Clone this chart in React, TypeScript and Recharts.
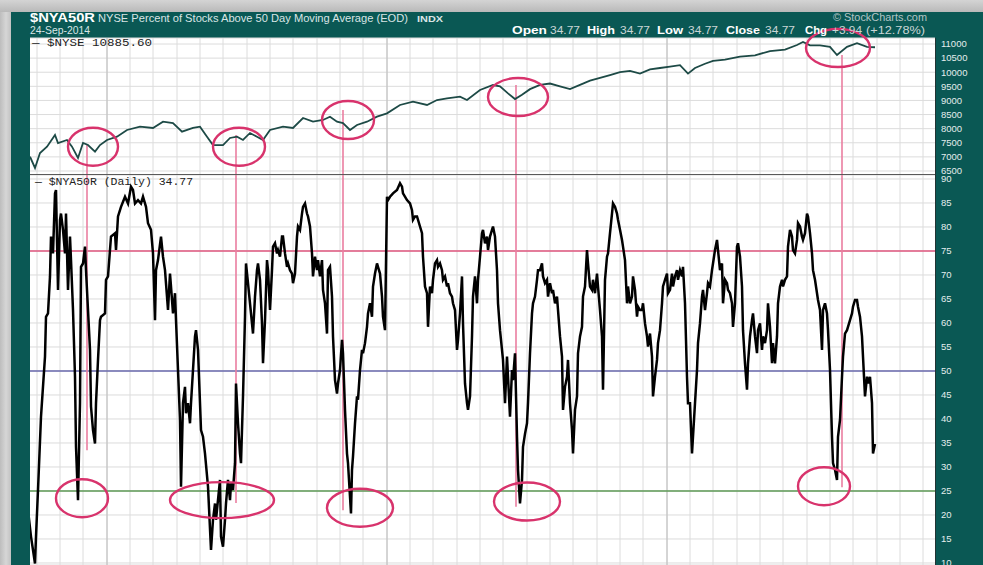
import React from "react";
import {
  LineChart,
  Line,
  XAxis,
  YAxis,
  CartesianGrid,
  ReferenceLine,
  ReferenceDot,
} from "recharts";

const TEAL = "#0a5854";
const RING = "#d8336c";
const PIN = "#ea7ea0";
const GRID = "#dcdcdc";

// sessions since the start of the window, one grid line per month
const monthTicks = [
  9, 32, 55, 79, 102, 125, 149, 172, 195, 219, 242, 265, 289, 312, 335, 359,
  382, 405, 429, 452, 475, 499, 522, 545, 569, 592, 615, 639, 662, 685, 709,
  732, 755, 779, 802, 825, 849, 872, 895,
];
const yearTicks = [79, 359, 639];
const priceTicks = [
  6500, 7000, 7500, 8000, 8500, 9000, 9500, 10000, 10500, 11000,
];
const pctTicks = [
  10, 15, 20, 25, 30, 35, 40, 45, 50, 55, 60, 65, 70, 75, 80, 85, 90,
];

const lastNyse = "10885.60";
const lastPct = "34.77";
const change = "+3.94";
const changePct = "(+12.78%)";

// $NYSE close: [session, value]
const nyse: [number, number][] = [
  [2, 7007], [7, 6607], [12, 7138], [19, 7362], [27, 7776], [30, 7492],
  [39, 7600], [44, 7362], [50, 6960], [55, 7492], [60, 7420], [67, 7185],
  [72, 7420], [79, 7600], [89, 7715], [99, 7953], [112, 8070], [125, 8024],
  [135, 8247], [145, 8200], [154, 7893], [165, 8024], [172, 8070], [179, 7715],
  [185, 7420], [195, 7420], [202, 7670], [209, 7715], [215, 7600], [222, 7847],
  [229, 7715], [235, 7600], [242, 7953], [255, 8070], [265, 8024], [275, 8378],
  [285, 8247], [295, 8307], [302, 8424], [309, 8247], [315, 8200], [322, 7953],
  [329, 8130], [339, 8247], [349, 8424], [359, 8544], [372, 8839], [385, 8955],
  [399, 8839], [409, 9016], [419, 9076], [432, 9133], [439, 9016], [452, 9370],
  [465, 9547], [472, 9500], [480, 9250], [487, 9050], [494, 9200], [502, 9400],
  [512, 9550], [522, 9600], [532, 9500], [542, 9400], [552, 9550], [562, 9700],
  [572, 9800], [582, 9900], [592, 10000], [602, 10050], [612, 9950],
  [622, 10100], [632, 10150], [642, 10200], [652, 10250], [660, 9950],
  [667, 10150], [677, 10300], [685, 10400], [697, 10450], [712, 10550],
  [727, 10600], [742, 10750], [757, 10800], [769, 10964], [775, 11070],
  [782, 10950], [792, 10950], [802, 10900], [809, 10610], [819, 10900],
  [829, 11030], [839, 10900], [847, 10886],
];

// $NYA50R daily: [session, percent]
const nya50r: [number, number][] = [
  [0, 21.0], [3, 15.5], [7, 9.9], [8, 15.5], [10, 25.2], [13, 40.5], [17, 53.0],
  [18, 61.3], [20, 62.0], [22, 69.7], [23, 78.0], [25, 74.5], [27, 87.0],
  [28, 87.7], [30, 66.9], [32, 81.5], [33, 82.8], [35, 79.4], [37, 74.5],
  [38, 82.8], [40, 66.9], [42, 78.0], [43, 73.1], [45, 62.7], [47, 48.8],
  [48, 34.2], [50, 23.1], [52, 43.3], [53, 71.7], [55, 72.4], [57, 75.9],
  [58, 71.0], [60, 62.7], [62, 54.4], [63, 42.6], [65, 37.7], [67, 34.9],
  [68, 43.3], [70, 52.3], [72, 60.6], [73, 61.3], [77, 62.0], [78, 69.0],
  [80, 69.7], [83, 78.0], [87, 78.7], [88, 75.2], [90, 82.2], [93, 84.2],
  [97, 86.3], [100, 84.9], [103, 88.4], [105, 87.7], [107, 84.9], [110, 85.6],
  [113, 84.9], [115, 86.3], [118, 84.2], [120, 80.8], [123, 79.4], [125, 74.5],
  [127, 60.6], [128, 71.0], [130, 73.1], [133, 78.0], [135, 73.8], [137, 71.0],
  [140, 62.7], [142, 70.3], [143, 67.6], [145, 62.0], [147, 66.2], [148, 60.6],
  [150, 50.2], [152, 39.8], [153, 25.9], [155, 43.3], [157, 46.7], [158, 41.2],
  [160, 43.3], [162, 39.1], [163, 43.3], [165, 50.2], [167, 57.2], [168, 58.5],
  [170, 54.4], [172, 43.3], [173, 37.7], [175, 36.3], [177, 32.8], [180, 25.9],
  [183, 12.7], [185, 19.0], [187, 22.4], [188, 19.0], [192, 27.3], [193, 15.5],
  [195, 13.4], [197, 19.0], [198, 22.4], [200, 27.3], [202, 23.1], [203, 26.6],
  [205, 25.2], [207, 30.8], [208, 47.4], [210, 39.1], [212, 32.8], [213, 30.8],
  [215, 44.7], [217, 61.3], [218, 72.4], [220, 68.3],
  [222, 64.1], [225, 57.8], [227, 65.5], [229, 71.0], [230, 72.4], [232, 69.0],
  [234, 59.9], [235, 51.6], [237, 60.6], [239, 73.1], [240, 71.0], [242, 62.7],
  [244, 71.0], [245, 75.9], [247, 76.6], [249, 74.5], [250, 75.2], [252, 73.8],
  [254, 78.0], [255, 78.0], [257, 74.5], [259, 71.7], [260, 72.4], [262, 71.0],
  [264, 70.3], [265, 68.3], [267, 70.3], [269, 78.0], [270, 80.1], [272, 79.4],
  [274, 82.8], [275, 84.2], [277, 84.9], [279, 82.8], [280, 82.2], [282, 80.1],
  [284, 74.5], [285, 69.7], [287, 73.8], [289, 71.0], [290, 73.1], [292, 69.7],
  [294, 73.1], [295, 66.9], [297, 64.1], [299, 57.8], [300, 71.0], [302, 71.7],
  [304, 65.5], [305, 57.2], [307, 48.1], [309, 45.3], [310, 47.4], [312, 50.2],
  [314, 56.5], [315, 53.7], [317, 41.9], [319, 32.8], [320, 30.8], [322, 23.8],
  [323, 20.3], [324, 29.4], [325, 32.2], [327, 39.1], [329, 44.7], [330, 44.0],
  [332, 50.2], [334, 54.4], [335, 53.7], [337, 55.8], [339, 59.2], [340, 62.0],
  [342, 64.1], [344, 61.3], [345, 67.6], [347, 70.3], [349, 72.4], [350, 71.7],
  [352, 70.3], [354, 65.5], [355, 61.3], [357, 58.5], [359, 86.3], [360, 85.6],
  [362, 86.3], [365, 87.0], [369, 87.7], [372, 89.1], [374, 88.4], [375, 87.0],
  [379, 85.6], [382, 84.9], [384, 83.5], [385, 81.5], [387, 82.2], [389, 82.2],
  [392, 80.1], [394, 78.7], [395, 73.8], [397, 67.6], [399, 66.2], [400, 59.2],
  [402, 67.6], [404, 66.2], [405, 69.0], [407, 72.4], [409, 73.1], [410, 71.7],
  [412, 72.4], [414, 71.0], [415, 69.0], [417, 69.7], [419, 67.6], [420, 68.3],
  [422, 66.2], [424, 65.5], [425, 64.1], [427, 62.7], [429, 54.4], [430, 56.5],
  [432, 62.0], [434, 69.7], [435, 59.9], [437, 47.4], [439, 43.3], [440, 41.9],
  [442, 44.7], [444, 57.2], [445, 65.5], [447, 69.7], [449, 64.1], [450, 69.0],
  [452, 73.8], [454, 78.7], [455, 79.4], [457, 76.6], [459, 78.0], [460, 75.2],
  [462, 78.0], [464, 79.4], [465, 80.1], [467, 78.0], [469, 71.0], [470, 64.1],
  [472, 58.5], [474, 54.4], [475, 52.3], [477, 43.3], [479, 53.0], [480, 48.8],
  [482, 40.5], [484, 50.2], [485, 48.1], [487, 53.7], [489, 36.3], [490, 29.4],
  [492, 22.4], [494, 27.3], [495, 34.2], [497, 36.9], [499, 39.1], [500, 43.3],
  [502, 53.7], [504, 62.0], [505, 64.1], [507, 65.5], [509, 69.0], [510, 71.0],
  [512, 71.0], [514, 72.4], [515, 69.7], [517, 68.3], [519, 69.0], [520, 65.5],
  [522, 68.3], [524, 66.2], [525, 66.9], [527, 64.1], [529, 65.5], [530, 62.7],
  [532, 57.2], [534, 53.0], [535, 41.9], [537, 46.7], [539, 48.8], [540, 52.3],
  [542, 43.3], [544, 37.7], [545, 32.8], [547, 41.9], [549, 44.7], [550, 53.7],
  [552, 57.2], [554, 59.2], [555, 65.5], [557, 67.6], [559, 75.2], [560, 72.4],
  [562, 67.6], [564, 66.9], [565, 69.0], [567, 66.2], [569, 70.3], [570, 67.6],
  [572, 62.7], [574, 57.2], [575, 46.1], [577, 69.0], [579, 73.8], [580, 74.5],
  [582, 78.7], [584, 82.8], [585, 84.9], [587, 84.2], [589, 82.8], [590, 81.5],
  [592, 79.4], [594, 77.3], [595, 75.9], [597, 73.1], [599, 64.1], [600, 67.6],
  [602, 64.1], [604, 65.5], [605, 69.7], [607, 66.9], [609, 61.3], [610, 63.4],
  [612, 62.7], [614, 62.7], [615, 64.1], [617, 59.9], [619, 57.2], [620, 55.1],
  [622, 57.8], [624, 53.0], [625, 44.7], [627, 48.8], [629, 52.3], [630, 55.8],
  [632, 58.5], [634, 64.1], [635, 67.6], [637, 69.0], [639, 70.3], [640, 66.2],
  [642, 66.9], [644, 70.3], [645, 67.6], [647, 69.7], [649, 71.0], [650, 69.0],
  [652, 71.0], [654, 69.7], [655, 71.7], [657, 64.1], [659, 48.8], [660, 43.3],
  [662, 43.3], [664, 32.8], [665, 36.3], [667, 43.3], [669, 50.2], [670, 55.8],
  [672, 59.9], [674, 65.5], [675, 66.9], [677, 62.7], [679, 66.2], [680, 68.3],
  [682, 67.6], [684, 71.0], [685, 72.4], [687, 75.2], [689, 77.3], [690, 75.2],
  [692, 71.0], [694, 72.4], [695, 64.1], [697, 69.0], [699, 68.3], [700, 66.9],
  [702, 66.2], [704, 64.1], [705, 59.2], [707, 64.1], [709, 75.9], [710, 76.6],
  [712, 73.8], [714, 67.6], [715, 58.5], [717, 51.6], [719, 46.1], [720, 51.6],
  [722, 57.2], [724, 60.6], [725, 62.0], [727, 57.2], [729, 53.7], [730, 58.5],
  [732, 59.9], [734, 54.4], [735, 57.2], [737, 55.8], [739, 58.5], [740, 64.1],
  [742, 59.2], [744, 51.6], [745, 55.8], [747, 51.6], [749, 57.2], [750, 64.1],
  [752, 67.6], [754, 69.0], [755, 67.6], [757, 69.0], [759, 69.7], [760, 75.9],
  [762, 79.4], [764, 78.0], [765, 75.2], [767, 74.5], [769, 77.3], [770, 80.8],
  [772, 80.1], [774, 78.0], [775, 77.3], [777, 78.7], [779, 82.8], [780, 82.2],
  [782, 78.7], [784, 74.5], [785, 71.0], [787, 69.0], [789, 66.2], [790, 64.8],
  [792, 62.7], [794, 54.4], [795, 62.7], [797, 64.1], [799, 62.0], [800, 58.5],
  [802, 50.2], [804, 36.3], [805, 30.8], [807, 29.4], [809, 27.3], [810, 36.3],
  [812, 39.8], [814, 48.8], [815, 53.0], [817, 57.8], [819, 58.5], [820, 59.2],
  [822, 60.6], [824, 62.0], [825, 63.4], [827, 64.8], [829, 64.8], [830, 63.4],
  [832, 61.3], [834, 57.2], [835, 53.0], [837, 44.7], [839, 48.8], [840, 47.4],
  [842, 48.8], [844, 43.3], [845, 32.8], [847, 34.8],
];

// hand-drawn markers: session, price where the pin starts, percent where it ends
const pinDays = [59, 208, 315, 488, 814];
const pinPriceTop = [7421, 7776, 8661, 9547, 10610];
const pinPctBottom = [33.5, 22.5, 21.0, 21.7, 25.8];
const priceRings: [number, number][] = [
  [65, 7361], [211, 7361], [320, 8307], [490, 9122], [810, 10858],
];
const pctRings: [number, number][] = [
  [54, 23.5], [194, 23.1], [332, 21.5], [499, 22.8], [796, 26.0],
];
const priceRingSize = [[25, 19], [26, 19], [26, 19], [30, 19], [32, 19]];
const pctRingSize = [[26, 19], [52, 18], [33, 19], [33, 19], [26, 19]];

const priceData = nyse.map(([d, v]) => ({ d, v }));
const pctData = nya50r.map(([d, v]) => ({ d, v }));

const X_DOMAIN: [number, number] = [2, 907];
const PRICE_DOMAIN: [number, number] = [6358, 11213];
const PCT_DOMAIN: [number, number] = [9.58, 90.83];

const axisTick = {
  fill: "#e4eded",
  fontSize: 9.5,
  fontFamily: "Liberation Sans, Arial, sans-serif",
};

const ring = (rx: number, ry: number) => (p: any) =>
  (
    <ellipse
      cx={p.cx}
      cy={p.cy}
      rx={rx}
      ry={ry}
      fill="none"
      stroke={RING}
      strokeWidth={2.4}
    />
  );

const quoteBar = [
  { t: "Open", b: true, x: 512, w: 35 },
  { t: lastPct, b: false, x: 550, w: 30 },
  { t: "High", b: true, x: 587, w: 28 },
  { t: lastPct, b: false, x: 620, w: 30 },
  { t: "Low", b: true, x: 657, w: 26 },
  { t: lastPct, b: false, x: 688, w: 30 },
  { t: "Close", b: true, x: 726, w: 34 },
  { t: lastPct, b: false, x: 765, w: 30 },
  { t: "Chg", b: true, x: 805, w: 22 },
  { t: change, b: false, x: 832, w: 30 },
  { t: changePct, b: false, x: 866, w: 59 },
];

const SANS = "Liberation Sans, Arial, sans-serif";
const MONO = "Liberation Mono, DejaVu Sans Mono, monospace";

const monthLines = () => [
  ...monthTicks.map((d) => (
    <ReferenceLine key={`m${d}`} x={d} stroke={GRID} />
  )),
  ...yearTicks.map((d) => (
    <ReferenceLine key={`y${d}`} x={d} stroke="#bcbcbc" />
  )),
];

export default function App() {
  return (
    <div
      style={{
        position: "absolute",
        left: 0,
        top: 0,
        width: 983,
        height: 565,
        overflow: "hidden",
        background:
          "linear-gradient(90deg, #bdbdbd 0px, #d6d6d6 6px, #c2c2c2 11px)",
      }}
    >
      <div
        style={{
          position: "absolute",
          left: 0,
          top: 0,
          width: 983,
          height: 12,
          background: "linear-gradient(180deg, #d4d4d4 0px, #b9b9b9 12px)",
        }}
      />
      <div
        style={{
          position: "absolute",
          left: 11,
          top: 12,
          width: 972,
          height: 553,
          background: TEAL,
        }}
      />

      {/* price panel */}
      <div style={{ position: "absolute", left: 30, top: 12 }}>
        <LineChart
          width={953}
          height={163}
          data={priceData}
          margin={{ top: 26, right: 0, bottom: 0, left: 0 }}
        >
          <CartesianGrid stroke={GRID} fill="#ffffff" vertical={false} />
          <XAxis
            type="number"
            dataKey="d"
            domain={X_DOMAIN}
            ticks={monthTicks}
            allowDataOverflow
            hide
          />
          <YAxis
            orientation="right"
            type="number"
            domain={PRICE_DOMAIN}
            ticks={priceTicks}
            interval={0}
            allowDataOverflow
            width={48}
            axisLine={false}
            tickLine={false}
            tickMargin={0}
            tick={axisTick}
          />
          {monthLines()}
          {pinDays.map((d, i) => (
            <ReferenceLine
              key={`p${i}`}
              segment={[
                { x: d, y: pinPriceTop[i] },
                { x: d, y: PRICE_DOMAIN[0] },
              ]}
              stroke={PIN}
              strokeWidth={1.6}
              ifOverflow="visible"
            />
          ))}
          <Line
            type="linear"
            dataKey="v"
            stroke="#1d4a46"
            strokeWidth={1.8}
            dot={false}
            isAnimationActive={false}
          />
          {priceRings.map(([d, v], i) => (
            <ReferenceDot
              key={`r${i}`}
              x={d}
              y={v}
              r={1}
              ifOverflow="visible"
              shape={ring(priceRingSize[i][0], priceRingSize[i][1])}
            />
          ))}
        </LineChart>
      </div>

      {/* breadth panel (svg starts 10px higher so the top label is not cut) */}
      <div style={{ position: "absolute", left: 30, top: 165 }}>
        <LineChart
          width={953}
          height={400}
          data={pctData}
          margin={{ top: 10, right: 0, bottom: 0, left: 0 }}
        >
          <CartesianGrid stroke={GRID} fill="#ffffff" vertical={false} />
          <XAxis
            type="number"
            dataKey="d"
            domain={X_DOMAIN}
            ticks={monthTicks}
            allowDataOverflow
            hide
          />
          <YAxis
            orientation="right"
            type="number"
            domain={PCT_DOMAIN}
            ticks={pctTicks}
            interval={0}
            allowDataOverflow
            width={48}
            axisLine={false}
            tickLine={false}
            tickMargin={0}
            tick={axisTick}
          />
          {monthLines()}
          <ReferenceLine y={75} stroke="#e0577f" strokeWidth={1.3} />
          <ReferenceLine y={50} stroke="#6a6aae" strokeWidth={1.3} />
          <ReferenceLine y={25} stroke="#5e9a56" strokeWidth={1.3} />
          {pinDays.map((d, i) => (
            <ReferenceLine
              key={`p${i}`}
              segment={[
                { x: d, y: PCT_DOMAIN[1] },
                { x: d, y: pinPctBottom[i] },
              ]}
              stroke={PIN}
              strokeWidth={1.6}
              ifOverflow="visible"
            />
          ))}
          <Line
            type="linear"
            dataKey="v"
            stroke="#000000"
            strokeWidth={2.5}
            dot={false}
            isAnimationActive={false}
          />
          {pctRings.map(([d, v], i) => (
            <ReferenceDot
              key={`r${i}`}
              x={d}
              y={v}
              r={1}
              ifOverflow="visible"
              shape={ring(pctRingSize[i][0], pctRingSize[i][1])}
            />
          ))}
        </LineChart>
      </div>

      {/* panel borders */}
      <div
        style={{
          position: "absolute",
          left: 30,
          top: 174,
          width: 905,
          height: 1,
          background: "#5a5a5a",
        }}
      />
      <div
        style={{
          position: "absolute",
          left: 935,
          top: 38,
          width: 1,
          height: 527,
          background: "#233",
        }}
      />

      <svg
        width={983}
        height={565}
        style={{ position: "absolute", left: 0, top: 0, pointerEvents: "none" }}
      >
        <text
          x={30}
          y={22}
          fill="#ffffff"
          fontFamily={SANS}
          fontWeight="bold"
          fontSize={13}
          textLength={65}
          lengthAdjust="spacingAndGlyphs"
        >
          $NYA50R
        </text>
        <text
          x={98}
          y={22}
          fill="#d9e5e5"
          fontFamily={SANS}
          fontSize={11}
          textLength={310}
          lengthAdjust="spacingAndGlyphs"
        >
          NYSE Percent of Stocks Above 50 Day Moving Average (EOD)
        </text>
        <text
          x={417}
          y={22}
          fill="#d9e5e5"
          fontFamily={SANS}
          fontWeight="bold"
          fontSize={8.5}
          textLength={26}
          lengthAdjust="spacingAndGlyphs"
        >
          INDX
        </text>
        <text
          x={30}
          y={34}
          fill="#d9e5e5"
          fontFamily={SANS}
          fontSize={10}
          textLength={60}
          lengthAdjust="spacingAndGlyphs"
        >
          24-Sep-2014
        </text>
        <text
          x={833}
          y={21}
          fill="#b3c4c4"
          fontFamily={SANS}
          fontSize={10.5}
          textLength={94}
          lengthAdjust="spacingAndGlyphs"
        >
          © StockCharts.com
        </text>
        {quoteBar.map((s, i) => (
          <text
            key={i}
            x={s.x}
            y={33.5}
            fill={s.b ? "#ffffff" : "#c9d6d6"}
            fontFamily={SANS}
            fontWeight={s.b ? "bold" : "normal"}
            fontSize={11}
            textLength={s.w}
            lengthAdjust="spacingAndGlyphs"
          >
            {s.t}
          </text>
        ))}
        <text
          x={32}
          y={45.5}
          fill="#222"
          fontFamily={MONO}
          fontSize={11}
          textLength={120}
          lengthAdjust="spacingAndGlyphs"
        >
          {`— $NYSE ${lastNyse}`}
        </text>
        <text
          x={35}
          y={185}
          fill="#222"
          fontFamily={MONO}
          fontSize={11}
          textLength={158}
          lengthAdjust="spacingAndGlyphs"
        >
          {`— $NYA50R (Daily) ${lastPct}`}
        </text>
      </svg>
    </div>
  );
}
